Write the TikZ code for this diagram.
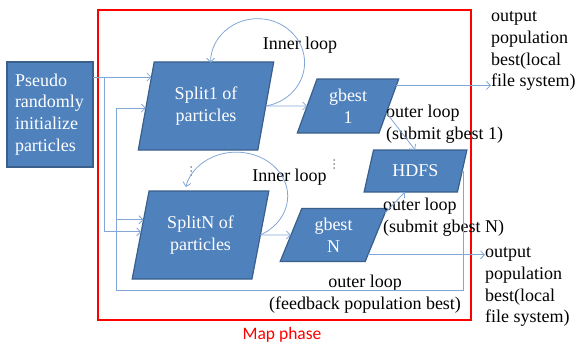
\documentclass[tikz,border=0pt]{standalone}
\usepackage{fontspec}
\setmainfont{Liberation Serif}
\newfontfamily\labelsans{Carlito}
\usetikzlibrary{shapes.geometric,arrows.meta}
\definecolor{boxfill}{HTML}{4F81BD}
\definecolor{boxline}{HTML}{3A5F8B}
\definecolor{wirecol}{HTML}{82A6D6}
\begin{document}
\begin{tikzpicture}[x=1pt,y=-1pt,
  txt/.style={font=\rmfamily\fontsize{18}{21.8}\selectfont, inner sep=0pt, align=center},
  procbox/.style={draw=boxline, fill=boxfill, line width=1.2pt, text=white,
    font=\rmfamily\fontsize{18}{21.8}\selectfont, inner sep=0pt, outer sep=0pt},
  pgram/.style={procbox, trapezium, trapezium stretches=true, align=center,
    trapezium left angle=#1, trapezium right angle=180-#1},
  conn/.style={draw=wirecol, line width=0.8pt, -{Straight Barb[length=4pt,width=8pt]}},
  dotmark/.style={fill=black!80, radius=0.75pt}]
\useasboundingbox (0,0) rectangle (578,345);

% map phase frame
\draw[red, line width=1.6pt] (98,10) rectangle (471,320);
\node[font=\labelsans\fontsize{17.5}{20}\selectfont, text=red] (mp) at (282,335) {Map phase};

% process boxes
\node[procbox, minimum width=86, minimum height=105, text width=70, align=left] (p) at (50,114.5)
  {Pseudo\\randomly\\initialize\\particles};
\node[pgram=75.96, minimum width=136, minimum height=88] (s1) at (206,106) {Split1 of\\particles};
\node[pgram=74.1, minimum width=137, minimum height=88] (sN) at (200.5,235) {SplitN of\\particles};
\node[pgram=70.6, minimum width=102, minimum height=54] (g1) at (348,106) {gbest\\1};
\node[pgram=69.3, minimum width=107, minimum height=53] (gN) at (333.5,235) {gbest\\N};
\node[pgram=66.8, minimum width=103, minimum height=42] (h) at (415.5,171) {HDFS};

% labels
\node[txt] (il1) at (300,45) {Inner loop};
\node[txt] (il2) at (289.5,177) {Inner loop};
\node[txt, align=left, anchor=west] (ol1) at (386,124) {outer loop\\(submit gbest 1)};
\node[txt, align=left, anchor=west] (olN) at (383,217.5) {outer loop\\(submit gbest N)};
\node[txt] (olf) at (365,294) {outer loop\\(feedback population best)};
\node[txt, align=left, anchor=west] (o1) at (491,51) {output\\population\\best(local\\file system)};
\node[txt, align=left, anchor=west] (o2) at (485,287) {output\\population\\best(local\\file system)};

% vertical ellipses between the first and the last split
\foreach \dy in {-4,0,4} {
  \fill[dotmark] (191,171+\dy) circle;
  \fill[dotmark] (334,164+\dy) circle;
}

% routing points
\coordinate (pjoin) at (104,0);
\coordinate (fbcorner) at (463,290);
\coordinate (fbleft) at (116,290);

% initial particles into both splits
\draw[conn] (p.east |- s1.152) -- (s1.152);
\draw[conn] (pjoin |- s1.152) |- (sN.177);

% inner loops
\draw[conn] (s1.0) arc[start angle=80, end angle=-180, x radius=47, y radius=44];
\draw[conn] (sN.0) arc[start angle=62, end angle=-168, x radius=51.5, y radius=44];
\draw[conn] (s1.0) -- (g1.180);
\draw[conn] (sN.0) -- (gN.180);

% outer loop: submit to HDFS
\draw[conn] (g1.-10) -- (h.91);
\draw[conn] (gN.23) -- (h.-117);

% outputs
\draw[conn] (g1.23) -- (o1.west |- g1.23);
\draw[conn] (gN.-30) -- (o2.west |- gN.-30);

% feedback of population best
\draw[conn] (h.0) -| (fbcorner) -- (fbleft) |- (s1.182);
\draw[conn] (fbleft |- sN.165) -- (sN.165);
\end{tikzpicture}
\end{document}
